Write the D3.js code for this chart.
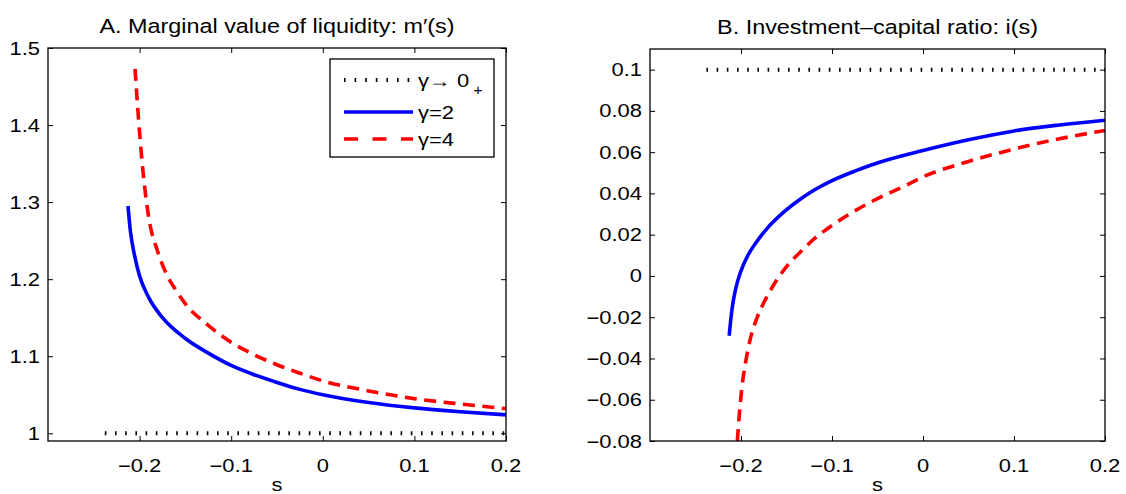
<!DOCTYPE html>
<html><head><meta charset="utf-8">
<script src="https://cdn.jsdelivr.net/npm/d3@7"></script>
<style>
html,body{margin:0;padding:0;background:#fff;}
text{font-family:"Liberation Sans",Arial,Helvetica,sans-serif;fill:#000;}
</style></head>
<body><svg id="c" width="1126" height="494"></svg>
<script>
// ---------- data ----------
const xTicks = [-0.2, -0.1, 0, 0.1, 0.2];
const yTicksA = [1, 1.1, 1.2, 1.3, 1.4, 1.5];
const yTicksB = [-0.08, -0.06, -0.04, -0.02, 0, 0.02, 0.04, 0.06, 0.08, 0.1];
const titleA = "A. Marginal value of liquidity: m\u2032(s)";
const titleB = "B. Investment\u2013capital ratio: i(s)";
const xLabel = "s";
const legendLabels = ["\u03b3\u2192 0", "\u03b3=2", "\u03b3=4"];

// limit gamma -> 0+ (flat lines)
const limitS = [-0.238, 0.2];
const limitA = [1, 1];
const limitB = [0.1, 0.1];

// panel A: m'(s)
const a2S = [-0.2127,-0.21,-0.205,-0.2,-0.19,-0.175,-0.15,-0.125,-0.1,-0.075,-0.05,-0.025,0,0.05,0.1,0.15,0.2];
const a2V = [1.295,1.262,1.228,1.204,1.176,1.15,1.123,1.104,1.088,1.076,1.066,1.057,1.05,1.04,1.033,1.028,1.024];
const a4S = [-0.205,-0.2,-0.195,-0.19,-0.18,-0.17,-0.16,-0.15,-0.125,-0.1,-0.075,-0.05,-0.025,0,0.05,0.1,0.15,0.2];
const a4V = [1.473,1.39,1.325,1.28,1.235,1.205,1.185,1.168,1.14,1.118,1.102,1.089,1.078,1.068,1.055,1.045,1.038,1.032];

// panel B: i(s)
const b2S = [-0.213,-0.21,-0.206,-0.2,-0.193,-0.183,-0.171,-0.155,-0.138,-0.12,-0.1,-0.075,-0.047,0,0.05,0.1,0.15,0.2];
const b2V = [-0.029,-0.0165,-0.0065,0.0025,0.0095,0.0165,0.0232,0.0302,0.0362,0.0415,0.0462,0.0508,0.0552,0.0608,0.066,0.0703,0.0732,0.0755];
const b4S = [-0.204,-0.202,-0.199,-0.195,-0.19,-0.183,-0.175,-0.165,-0.15,-0.135,-0.12,-0.1,-0.08,-0.06,-0.04,-0.02,0,0.05,0.1,0.15,0.2];
const b4V = [-0.08,-0.068,-0.054,-0.042,-0.031,-0.021,-0.013,-0.005,0.0045,0.0115,0.0178,0.0245,0.0302,0.0352,0.0396,0.0436,0.048,0.0555,0.0615,0.0665,0.0705];

// ---------- drawing ----------
const svg = d3.select("#c");
const SX = 1.22, FS = 18;
const fmt = d3.format("");

function txt(g, x, y, s, opts={}) {
  return g.append("text")
    .attr("transform", `translate(${x},${y}) scale(${opts.sx||SX},1)`)
    .attr("font-size", opts.fs||FS)
    .attr("text-anchor", opts.anchor||"middle")
    .text(s);
}

function panel(box, yDomain, yTicks, title, lim, s2, v2, s4, v4) {
  const x = d3.scaleLinear().domain([-0.3, 0.2]).range([box.l, box.r]);
  const y = d3.scaleLinear().domain(yDomain).range([box.b, box.t]);
  const g = svg.append("g");
  const tl = 5;
  // axes (ticks inward, box on)
  g.append("g").attr("transform", `translate(0,${box.b})`)
    .call(d3.axisBottom(x).tickValues(xTicks).tickSize(-tl).tickFormat(""))
    .call(a => a.select(".domain").remove());
  g.append("g").attr("transform", `translate(0,${box.t})`)
    .call(d3.axisTop(x).tickValues(xTicks).tickSize(-tl).tickFormat(""))
    .call(a => a.select(".domain").remove());
  g.append("g").attr("transform", `translate(${box.l},0)`)
    .call(d3.axisLeft(y).tickValues(yTicks).tickSize(-tl).tickFormat(""))
    .call(a => a.select(".domain").remove());
  g.append("g").attr("transform", `translate(${box.r},0)`)
    .call(d3.axisRight(y).tickValues(yTicks).tickSize(-tl).tickFormat(""))
    .call(a => a.select(".domain").remove());
  g.selectAll(".tick line").attr("stroke", "#000").attr("stroke-width", 1);

  // curves
  const line = d3.line().x(d => x(d[0])).y(d => y(d[1])).curve(d3.curveMonotoneX);
  g.append("path").datum(lim[0].map((s,i)=>[s, lim[1][i]]))
    .attr("d", d3.line().x(d=>x(d[0])).y(d=>y(d[1])))
    .attr("fill","none").attr("stroke","#000").attr("stroke-width",4)
    .attr("stroke-dasharray","1.6,8.6");
  g.append("path").datum(s2.map((s,i)=>[s, v2[i]])).attr("d", line)
    .attr("fill","none").attr("stroke","#0000ff").attr("stroke-width",3.6);
  g.append("path").datum(s4.map((s,i)=>[s, v4[i]])).attr("d", line)
    .attr("fill","none").attr("stroke","#ff0000").attr("stroke-width",3.6)
    .attr("stroke-dasharray","12,7.5");

  // box
  g.append("rect").attr("x", box.l).attr("y", box.t)
    .attr("width", box.r-box.l).attr("height", box.b-box.t)
    .attr("fill","none").attr("stroke","#000").attr("stroke-width",1.3);

  // tick labels
  xTicks.forEach(v => txt(g, x(v), box.b+31, fmt(v)));
  yTicks.forEach(v => txt(g, box.l-8, y(v)+6.5, fmt(v), {anchor:"end"}));
  txt(g, (box.l+box.r)/2, box.b+50, xLabel);
  txt(g, (box.l+box.r)/2, box.t-15, title, {fs:19.5, sx:1.2});
  return {x, y, g};
}

const A = panel({l:48, r:506, t:48, b:441}, [0.99, 1.5], yTicksA, titleA, [limitS, limitA], a2S, a2V, a4S, a4V);
const B = panel({l:650, r:1105, t:49, b:441}, [-0.08, 0.11], yTicksB, titleB, [limitS, limitB], b2S, b2V, b4S, b4V);

// legend
const lg = svg.append("g");
lg.append("rect").attr("x",330).attr("y",59).attr("width",164).attr("height",98)
  .attr("fill","#fff").attr("stroke","#000").attr("stroke-width",1.3);
const rows = [
  {y:80, stroke:"#000", w:4, dash:"1.6,9"},
  {y:112, stroke:"#0000ff", w:3.6, dash:null},
  {y:139, stroke:"#ff0000", w:3.6, dash:"14,14.5"}
];
rows.forEach((r,i) => {
  const p = lg.append("line").attr("x1",344).attr("x2",413).attr("y1",r.y).attr("y2",r.y)
    .attr("stroke", r.stroke).attr("stroke-width", r.w);
  if (r.dash) p.attr("stroke-dasharray", r.dash);
  txt(lg, 418, r.y+6.5, legendLabels[i], {anchor:"start"});
});
txt(lg, 478, 95, "+", {anchor:"middle", fs:14, sx:1.1});
</script></body></html>
